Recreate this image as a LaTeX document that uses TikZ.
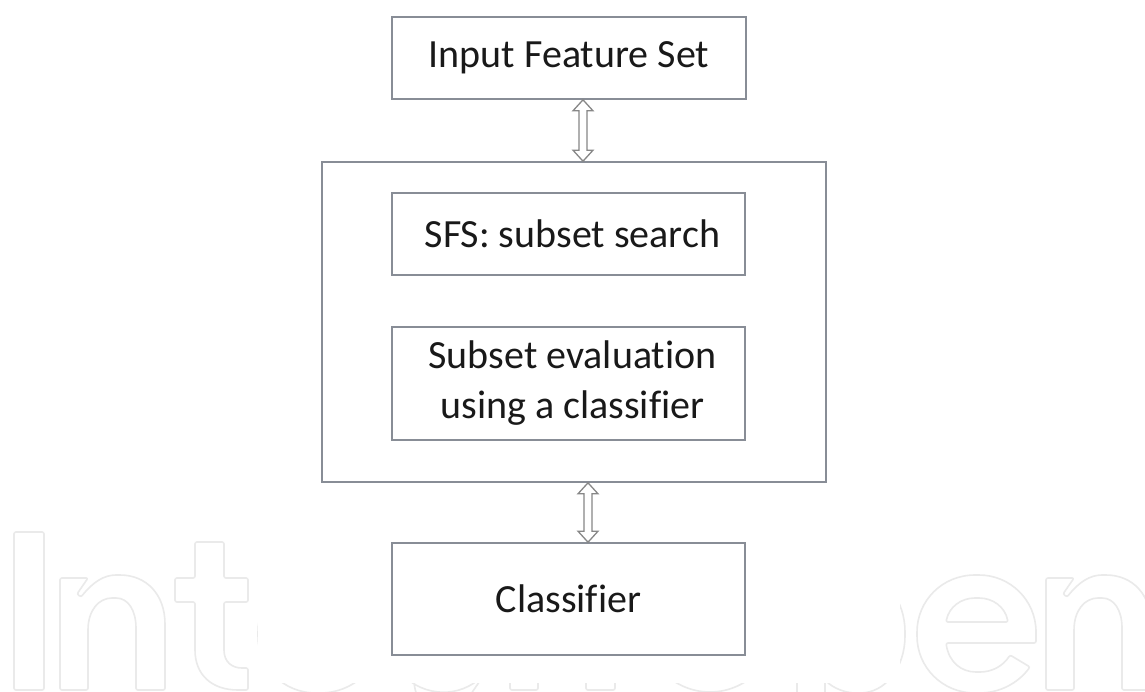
\documentclass[tikz,border=0pt]{standalone}
\usepackage{fontspec}
\setmainfont{Carlito}[Ligatures=CommonOff]
\usetikzlibrary{calc}
\definecolor{boxgray}{RGB}{136,141,150}
\definecolor{arrgray}{RGB}{135,135,135}
\definecolor{wm}{RGB}{234,234,234}
\definecolor{txt}{RGB}{25,25,25}
\newcommand{\mydblarrow}[2]{%
  \draw[dblarr] let \p1=($(#1.south)+(14,0)$), \p2=($(#2.north)+(14,0)$) in
    (\x1,\y1) -- (\x1+10pt,\y1-11pt) -- (\x1+4pt,\y1-11pt) -- (\x1+4pt,\y2+11pt)
    -- (\x1+10pt,\y2+11pt) -- (\x1,\y2) -- (\x1-10pt,\y2+11pt) -- (\x1-4pt,\y2+11pt)
    -- (\x1-4pt,\y1-11pt) -- (\x1-10pt,\y1-11pt) -- cycle;}
\newcommand{\wmletn}{%
  \draw[wmark] (60,690) -- (60,578) -- (88,578) -- (77,594) -- (81,597)
    .. controls (93,582) and (104,575) .. (118,575)
    .. controls (146,575) and (165,594) .. (165,626) -- (165,690) -- (136,690) -- (136,630)
    .. controls (136,610) and (128,598) .. (114,598)
    .. controls (99,598) and (88,610) .. (88,632) -- (88,690) -- cycle;}
\newcommand{\wmlete}{%
  \draw[wmark] (1036,643) -- (946,643) .. controls (949,662) and (961,672) .. (978,672)
    .. controls (992,672) and (1003,666) .. (1010,655) -- (1030,667)
    .. controls (1018,683) and (1000,693) .. (977,693)
    .. controls (942,693) and (917,667) .. (917,634)
    .. controls (917,601) and (942,575) .. (977,575)
    .. controls (1010,575) and (1036,600) .. (1036,634) -- cycle;
  \draw[wmark] (946,622) .. controls (949,607) and (961,598) .. (977,598)
    .. controls (993,598) and (1005,607) .. (1008,622) -- cycle;}
\begin{document}
\begin{tikzpicture}[x=1pt,y=-1pt,
  box/.style={draw=boxgray, line width=1.6pt, rectangle, inner sep=0pt, align=center,
    font=\fontsize{40}{50}\selectfont, text=txt},
  wmark/.style={draw=wm, line width=1.6pt, rounded corners=2pt},
  dblarr/.style={draw=arrgray, fill=white, line width=1.3pt, line join=miter}]
\useasboundingbox (0,0) rectangle (1145,691);
\fill[white] (0,0) rectangle (1145,691);
% watermark
\begin{scope}
\clip (0,0) rectangle (1145,691);
\draw[wmark] (14,532) rectangle (44,690);
\wmletn
\draw[wmark] (195,542) -- (224,542) -- (224,578) -- (248,578) -- (248,602) -- (224,602) -- (224,648)
  .. controls (224,662) and (232,668) .. (244,668) -- (248,668) -- (248,690) -- (240,690)
  .. controls (212,690) and (195,675) .. (195,648) -- (195,602) -- (175,602) -- (175,578)
  -- (195,578) -- cycle;
\begin{scope}[xshift=-659pt]\wmlete\end{scope}
\draw[wmark] (486.7,671) arc[start angle=40, end angle=320, x radius=57, y radius=59]
  -- (465.2,656.1) arc[start angle=320, end angle=40, x radius=29, y radius=36] -- cycle;
\begin{scope}[xshift=450pt]\wmletn\end{scope}
\draw[wmark] (710,612) ellipse[x radius=72, y radius=80];
\draw[wmark] (710,612) ellipse[x radius=44, y radius=56];
\draw[wmark] (797,750) -- (797,578) -- (825,578) -- (825,590)
  .. controls (838,580) and (848,575) .. (858,575)
  .. controls (886,575) and (905,601) .. (905,634)
  .. controls (905,667) and (886,693) .. (858,693)
  .. controls (845,693) and (833,688) .. (825,680) -- (825,750) -- cycle;
\draw[wmark] (858,634) ellipse[x radius=30, y radius=38];
\wmlete
\begin{scope}[xshift=986pt]\wmletn\end{scope}
\end{scope}
\fill[white] (258,0) rectangle (900,683);
% diagram
\node[box, minimum width=354pt, minimum height=82pt] (input) at (569,58) {Input Feature Set};
\node[box, minimum width=504pt, minimum height=320pt] (wrapper) at (574,322) {};
\node[box, minimum width=353pt, minimum height=82pt] (sfs) at (568.5,234) {\hspace*{8pt}SFS: subset search};
\node[box, minimum width=353pt, minimum height=113pt] (eval) at (568.5,383.5) {\hspace*{8pt}Subset evaluation\\\hspace*{8pt}using a classifier};
\node[box, minimum width=353pt, minimum height=112pt] (cls) at (568.5,599) {Classifier};
\mydblarrow{input}{wrapper}
\mydblarrow{wrapper}{cls}
\end{tikzpicture}
\end{document}
